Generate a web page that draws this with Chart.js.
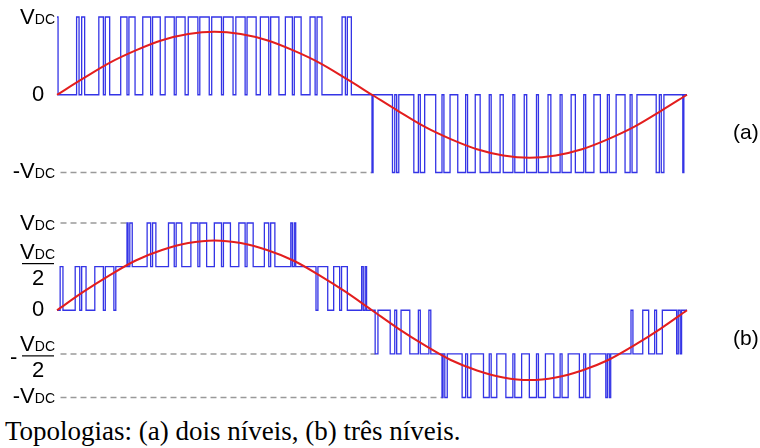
<!DOCTYPE html>
<html>
<head>
<meta charset="utf-8">
<script src="https://cdn.jsdelivr.net/npm/chart.js@4.4.1/dist/chart.umd.min.js"></script>
<style>
  body { margin: 0; background: #fff; width: 760px; height: 448px; position: relative; overflow: hidden; }
  canvas { position: absolute; left: 0; }
  #waveA { top: 0; }
  #waveB { top: 195px; }
  .tag { position: absolute; left: 733px; font-family: "Liberation Sans", Arial, sans-serif; font-size: 21px; color: #000; }
  #caption { position: absolute; left: 5px; top: 416px; line-height: 30px; font-family: "Liberation Serif", "Times New Roman", serif; font-size: 27px; color: #000; white-space: nowrap; }
</style>
</head>
<body>
<canvas id="waveA" width="760" height="190"></canvas>
<canvas id="waveB" width="760" height="220"></canvas>
<div class="tag" style="top:120px">(a)</div>
<div class="tag" style="top:326px">(b)</div>
<div id="caption">Topologias: (a) dois níveis, (b) três níveis.</div>

<script>
// angle samples (degrees) for the sinusoidal references
const angles = [0, 15, 30, 45, 60, 75, 90, 105, 120, 135, 150, 165, 180,
                195, 210, 225, 240, 255, 270, 285, 300, 315, 330, 345, 360];

// modulating signals, in units of V_DC
const sineA = [0, 0.21, 0.41, 0.57, 0.70, 0.78, 0.81, 0.78, 0.70, 0.57, 0.41, 0.21, 0,
               -0.21, -0.41, -0.57, -0.70, -0.78, -0.81, -0.78, -0.70, -0.57, -0.41, -0.21, 0];
const sineB = [0, 0.21, 0.40, 0.57, 0.69, 0.77, 0.80, 0.77, 0.69, 0.57, 0.40, 0.21, 0,
               -0.21, -0.40, -0.57, -0.69, -0.77, -0.80, -0.77, -0.69, -0.57, -0.40, -0.21, 0];

// two-level output: [switching angle, level held until the next switch]
const stepsA = [
  [0, 1], [0.6, 0],
  [11.2, 1], [12.6, 0], [14.1, 1], [15.8, 0],
  [23.9, 1], [26.5, 0], [27.6, 1], [30.1, 0],
  [36.4, 1], [40.0, 0], [41.1, 1], [44.6, 0],
  [49.0, 1], [53.5, 0], [54.6, 1], [59.0, 0],
  [61.8, 1], [67.0, 0], [68.1, 1], [73.2, 0],
  [75.0, 1], [80.5, 0], [81.6, 1], [87.0, 0],
  [88.4, 1], [94.0, 0], [95.1, 1], [100.6, 0],
  [102.2, 1], [107.5, 0], [108.6, 1], [113.8, 0],
  [116.2, 1], [121.0, 0], [122.1, 1], [126.8, 0],
  [130.5, 1], [134.5, 0], [135.6, 1], [139.5, 0],
  [144.6, 1], [147.5, 0], [148.6, 1], [151.4, 0],
  [162.9, 1], [164.8, 0], [165.9, 1], [168.2, 0],
  [180, -1], [180.6, 0],
  [191.7, -1], [193.0, 0], [194.1, -1], [195.3, 0],
  [203.9, -1], [206.5, 0], [207.6, -1], [210.1, 0],
  [216.4, -1], [220.0, 0], [221.1, -1], [224.6, 0],
  [229.0, -1], [233.5, 0], [234.6, -1], [239.0, 0],
  [241.8, -1], [247.0, 0], [248.1, -1], [253.2, 0],
  [255.0, -1], [260.5, 0], [261.6, -1], [267.0, 0],
  [268.4, -1], [274.0, 0], [275.1, -1], [280.6, 0],
  [282.2, -1], [287.5, 0], [288.6, -1], [293.8, 0],
  [296.2, -1], [301.0, 0], [302.1, -1], [306.8, 0],
  [310.5, -1], [314.5, 0], [315.6, -1], [319.5, 0],
  [324.6, -1], [327.5, 0], [328.6, -1], [331.4, 0],
  [342.4, -1], [344.2, 0], [345.3, -1], [346.8, 0],
  [357.6, -1], [358.2, 0], [360, 0]
];

// three-level output
const stepsB = [
  [0, 0], [1.8, 0.5], [3.4, 0],
  [10.4, 0.5], [13.0, 0], [14.1, 0.5], [16.6, 0],
  [21.6, 0.5], [26.5, 0], [27.6, 0.5], [32.5, 0],
  [33.6, 0.5],
  [40.0, 1], [40.6, 0.5], [41.6, 1], [43.0, 0.5],
  [51.5, 1], [53.5, 0.5], [54.6, 1], [56.5, 0.5],
  [63.7, 1], [67.0, 0.5], [68.1, 1], [71.3, 0.5],
  [76.5, 1], [80.5, 0.5], [81.6, 1], [85.5, 0.5],
  [89.9, 1], [94.0, 0.5], [95.1, 1], [99.1, 0.5],
  [103.9, 1], [107.5, 0.5], [108.6, 1], [112.1, 0.5],
  [118.5, 1], [121.0, 0.5], [122.1, 1], [124.5, 0.5],
  [133.6, 1], [134.5, 0.5], [135.6, 1], [136.4, 0.5],
  [148.0, 0], [149.1, 0.5], [154.7, 0],
  [158.1, 0.5], [161.5, 0], [162.6, 0.5], [165.9, 0],
  [174.1, 0.5], [175.0, 0], [176.1, 0.5], [176.9, 0],
  [181.8, -0.5], [183.4, 0],
  [190.4, -0.5], [193.0, 0], [194.1, -0.5], [196.6, 0],
  [201.6, -0.5], [206.5, 0], [207.6, -0.5], [212.5, 0],
  [213.6, -0.5],
  [220.0, -1], [220.6, -0.5], [221.6, -1], [223.0, -0.5],
  [231.5, -1], [233.5, -0.5], [234.6, -1], [236.5, -0.5],
  [243.7, -1], [247.0, -0.5], [248.1, -1], [251.3, -0.5],
  [256.5, -1], [260.5, -0.5], [261.6, -1], [265.5, -0.5],
  [269.9, -1], [274.0, -0.5], [275.1, -1], [279.1, -0.5],
  [283.9, -1], [287.5, -0.5], [288.6, -1], [292.1, -0.5],
  [298.5, -1], [301.0, -0.5], [302.1, -1], [304.5, -0.5],
  [313.6, -1], [314.5, -0.5], [315.6, -1], [316.4, -0.5],
  [328.0, 0], [329.1, -0.5], [334.7, 0],
  [338.1, -0.5], [341.5, 0], [342.6, -0.5], [345.9, 0],
  [354.1, -0.5], [355.0, 0], [356.1, -0.5], [356.9, 0], [360, 0]
];

// dashed guide lines: [from angle, to angle, level]
const guidesA = [[2, 180, -1]];
const guidesB = [[2, 40, 1], [2, 182, -0.5], [2, 220.5, -1]];

// level labels on the left
const levelValuesA = [1, 0, -1];
const levelTextA = ['V_DC', '0', '-V_DC'];
const levelValuesB = [1, 0.5, 0, -0.5, -1];
const levelTextB = ['V_DC', 'V_DC/2', '0', '-V_DC/2', '-V_DC'];

const BLUE = '#3434e6';
const RED = '#e31e1e';
const GREY = '#9a9a9a';
const SANS = '"Liberation Sans", Arial, sans-serif';

function guideSets(guides) {
  return guides.map(([a, b, v]) => ({
    data: [{ x: a, y: v }, { x: b, y: v }],
    borderColor: GREY, borderWidth: 1.5, borderDash: [6, 4],
    pointRadius: 0, order: 3, clip: 6
  }));
}

function buildSets(steps, sine, guides) {
  return [
    {
      data: angles.map((a, i) => ({ x: a, y: sine[i] })),
      borderColor: RED, borderWidth: 2, cubicInterpolationMode: 'monotone',
      pointRadius: 0, order: 1, clip: 6
    },
    {
      // each level is held horizontally until the next switching angle
      data: steps.map(([a, v]) => ({ x: a, y: v })),
      borderColor: BLUE, borderWidth: 1.3, stepped: 'before',
      pointRadius: 0, order: 2, clip: 6
    },
    ...guideSets(guides)
  ];
}

// "V" with a "DC" subscript, right-aligned at xr
function drawVdc(ctx, xr, base, minus) {
  ctx.font = '14px ' + SANS;
  const wSub = ctx.measureText('DC').width;
  ctx.font = '22px ' + SANS;
  const wV = ctx.measureText('V').width;
  let x = xr - wSub - wV;
  if (minus) {
    const wm = ctx.measureText('-').width;
    ctx.fillText('-', x - wm, base);
  }
  ctx.fillText('V', x, base);
  ctx.font = '14px ' + SANS;
  ctx.fillText('DC', x + wV, base);
}

function drawHalf(ctx, yLine, minus) {
  ctx.strokeStyle = '#000';
  ctx.lineWidth = 1.2;
  ctx.beginPath();
  ctx.moveTo(22, yLine);
  ctx.lineTo(54, yLine);
  ctx.stroke();
  drawVdc(ctx, 55, yLine - 5, false);
  ctx.font = '22px ' + SANS;
  const w2 = ctx.measureText('2').width;
  ctx.fillText('2', 38 - w2 / 2, yLine + 21);
  if (minus) ctx.fillText('-', 10, yLine + 8);
}

const levelLabels = {
  id: 'levelLabels',
  afterDraw(chart, args, opts) {
    const ctx = chart.ctx;
    const ys = chart.scales.y;
    ctx.save();
    ctx.fillStyle = '#000';
    ctx.textBaseline = 'alphabetic';
    opts.values.forEach((v, i) => {
      const y = ys.getPixelForValue(v);
      const t = opts.text[i];
      if (t === '0') {
        ctx.font = '22px ' + SANS;
        const w = ctx.measureText('0').width;
        ctx.fillText('0', 38 - w / 2, y + 6);
      } else if (t.endsWith('/2')) {
        drawHalf(ctx, v > 0 ? y - 3 : y + 2, t.startsWith('-'));
      } else {
        drawVdc(ctx, 55, y + (v < 0 ? 5 : 7), t.startsWith('-'));
      }
    });
    ctx.restore();
  }
};

function makeChart(id, sets, pad, values, text) {
  return new Chart(document.getElementById(id), {
    type: 'line',
    data: { datasets: sets },
    options: {
      responsive: false,
      animation: false,
      events: [],
      layout: { padding: pad },
      scales: {
        x: { type: 'linear', min: 0, max: 360, display: false },
        y: { min: -1, max: 1, display: false }
      },
      plugins: {
        legend: { display: false },
        tooltip: { enabled: false },
        levelLabels: { values, text }
      }
    },
    plugins: [levelLabels]
  });
}

makeChart('waveA', buildSets(stepsA, sineA, guidesA),
  { left: 57, right: 73, top: 17, bottom: 17.5 }, levelValuesA, levelTextA);
makeChart('waveB', buildSets(stepsB, sineB, guidesB),
  { left: 57, right: 73, top: 28, bottom: 17.5 }, levelValuesB, levelTextB);
</script>
</body>
</html>
